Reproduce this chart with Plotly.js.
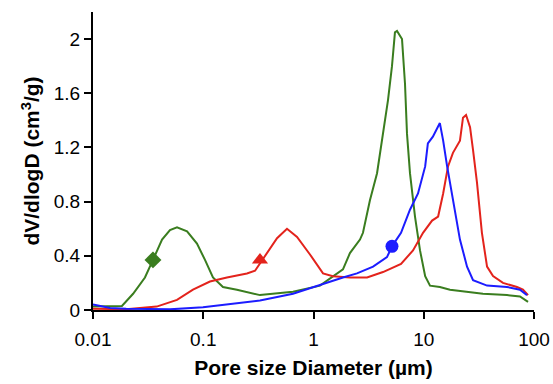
<!DOCTYPE html>
<html><head><meta charset="utf-8">
<script src="https://cdn.plot.ly/plotly-3.0.1.min.js"></script>
<style>html,body{margin:0;padding:0;background:#fff}#c{width:553px;height:384px}</style>
</head><body><div id="c"></div>
<script>
const greenX = [0.01,0.0143,0.0183,0.0231,0.0296,0.035,0.0423,0.0499,0.0578,0.0713,0.0877,0.1037,0.1225,0.151,0.202,0.327,0.652,1.146,1.5,1.85,2.14,2.64,2.81,3.25,3.77,4.27,4.74,5.15,5.48,5.72,6.35,6.76,7.05,7.5,8.33,9.25,10.3,11.4,14.0,17.3,34.4,56.9,74.6,88.3];
const greenY = [0.025,0.025,0.03,0.12,0.24,0.37,0.52,0.59,0.61,0.58,0.49,0.37,0.24,0.17,0.15,0.11,0.135,0.18,0.25,0.30,0.42,0.52,0.57,0.81,1.01,1.30,1.55,1.80,2.05,2.06,2.0,1.67,1.30,1.01,0.69,0.44,0.25,0.18,0.17,0.15,0.12,0.11,0.10,0.06];
const redX = [0.01,0.02,0.0378,0.0578,0.0807,0.115,0.164,0.249,0.295,0.379,0.467,0.575,0.709,0.929,1.22,1.5,2.14,3.06,4.27,6.22,7.99,9.85,11.9,13.5,15.0,16.6,18.4,21.3,22.7,24.2,26.3,28.0,30.4,33.7,37.5,42.5,52.3,70.1,79.4,88.3];
const redY = [0.01,0.005,0.025,0.075,0.15,0.21,0.24,0.27,0.29,0.42,0.53,0.60,0.54,0.41,0.27,0.25,0.24,0.24,0.28,0.34,0.44,0.57,0.66,0.69,0.86,1.06,1.16,1.25,1.42,1.44,1.35,1.18,0.94,0.57,0.32,0.25,0.20,0.17,0.15,0.11];
const blueX = [0.01,0.0143,0.02,0.05,0.0995,0.164,0.327,0.652,1.1,1.5,1.85,2.48,3.47,4.64,5.15,6.22,7.5,8.87,10.3,10.9,12.1,14.0,15.0,16.3,18.4,21.3,24.7,28.0,37.5,56.9,74.6,86.4];
const blueY = [0.04,0.015,0.01,0.005,0.02,0.04,0.07,0.12,0.18,0.22,0.24,0.27,0.32,0.39,0.47,0.57,0.74,0.86,1.06,1.23,1.28,1.38,1.25,1.06,0.81,0.52,0.32,0.22,0.18,0.17,0.15,0.11];
const markerX = [0.035, 0.327, 5.15];
const markerY = [0.37, 0.37, 0.47];
const xTickVals = [0.01,0.1,1,10,100];
const xTickText = ['0.01','0.1','1','10','100'];
const yTickVals = [0,0.4,0.8,1.2,1.6,2];
const yTickText = ['0','0.4','0.8','1.2','1.6','2'];

const G='#3a7d1f', R='#e3231c', B='#1c1cff';
const traces = [
 {x:greenX,y:greenY,mode:'lines',line:{color:G,width:2}},
 {x:redX,y:redY,mode:'lines',line:{color:R,width:2}},
 {x:blueX,y:blueY,mode:'lines',line:{color:B,width:2}},
 {x:[markerX[0]],y:[markerY[0]],mode:'markers',marker:{symbol:'diamond',size:13,color:G}},
 {x:[markerX[1]],y:[markerY[1]],mode:'markers',marker:{symbol:'triangle-up',size:14,color:R}},
 {x:[markerX[2]],y:[markerY[2]],mode:'markers',marker:{symbol:'circle',size:13,color:B}}
];
const font='"Liberation Sans", Arial, sans-serif';
const layout = {
 width:553,height:384,margin:{l:93,r:19,t:12,b:74},
 paper_bgcolor:'#fff',plot_bgcolor:'#fff',showlegend:false,
 font:{family:font,color:'#000',size:20},
 xaxis:{type:'log',range:[-2,2],tickvals:xTickVals,ticktext:xTickText,showgrid:false,zeroline:false,
  showline:true,linecolor:'#000',linewidth:2,ticks:'outside',ticklen:7,tickwidth:2,tickcolor:'#000',
  ticklabelstandoff:4,
  tickfont:{size:19},title:{text:'<b>Pore size Diameter (µm)</b>',font:{size:21},standoff:12}},
 yaxis:{range:[0,2.2],tickvals:yTickVals,ticktext:yTickText,showgrid:false,zeroline:false,
  showline:true,linecolor:'#000',linewidth:2,ticks:'outside',ticklen:7,tickwidth:2,tickcolor:'#000',
  tickfont:{size:19},title:{text:'<b>dV/dlogD (cm<sup>3</sup>/g)</b>',font:{size:21},standoff:8}}
};
Plotly.newPlot('c',traces,layout,{staticPlot:true,displayModeBar:false});
</script></body></html>
